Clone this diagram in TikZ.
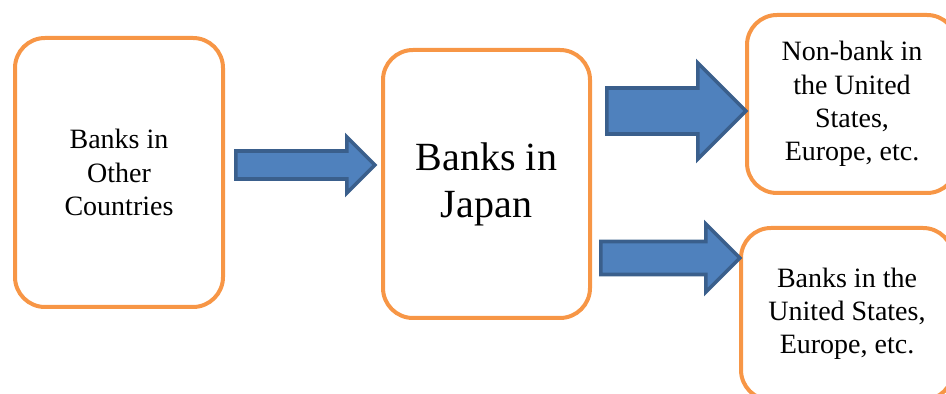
\documentclass[tikz,border=0pt]{standalone}
\usepackage{fontspec}
\setmainfont{Liberation Serif}
\usetikzlibrary{positioning,shapes.arrows}
\definecolor{boxorange}{HTML}{F79646}
\definecolor{arrowblue}{HTML}{4F81BD}
\definecolor{arrowedge}{HTML}{3A5F8C}
\begin{document}
\begin{tikzpicture}
    [x=0.5pt,y=-0.5pt,
     bank/.style={draw=boxorange, line width=2pt, rounded corners=15pt, align=center, inner sep=2pt, font=\fontsize{14}{16.6}\selectfont},
     flow/.style={single arrow, draw=arrowedge, fill=arrowblue, line width=1.8pt, single arrow tip angle=90, inner xsep=0pt, minimum height=69.5pt, anchor=tail}]
  \useasboundingbox (0,0) rectangle (946,394);
  \clip (0,0) rectangle (946,394);

  \node[bank, minimum width=104pt, minimum height=134.5pt] (other) at (119,172.5) {Banks in\\Other\\Countries};
  \node[bank, minimum width=103.5pt, minimum height=134pt, font=\fontsize{20}{23.6}\selectfont] (japan) at (486.5,184) {Banks in\\Japan};
  \node[bank, minimum width=105pt, minimum height=89pt] (nonbank) at (852,104) {Non-bank in\\the United\\States,\\Europe, etc.};
  \node[bank, minimum width=106pt, minimum height=86pt] (usbank) at (847,314) {Banks in the\\United States,\\Europe, etc.};

  % block arrows between the boxes
  \node[flow, inner ysep=6.1pt, minimum width=26.2pt, single arrow head extend=7pt] (a1) at (234,165) {};
  \node[flow, inner ysep=10.6pt, minimum width=46.2pt, single arrow head extend=12.5pt] (a2) at (605,111) {};
  \node[flow, inner ysep=7.35pt, minimum width=32.2pt, single arrow head extend=8.75pt] (a3) at (599,258) {};
\end{tikzpicture}
\end{document}
